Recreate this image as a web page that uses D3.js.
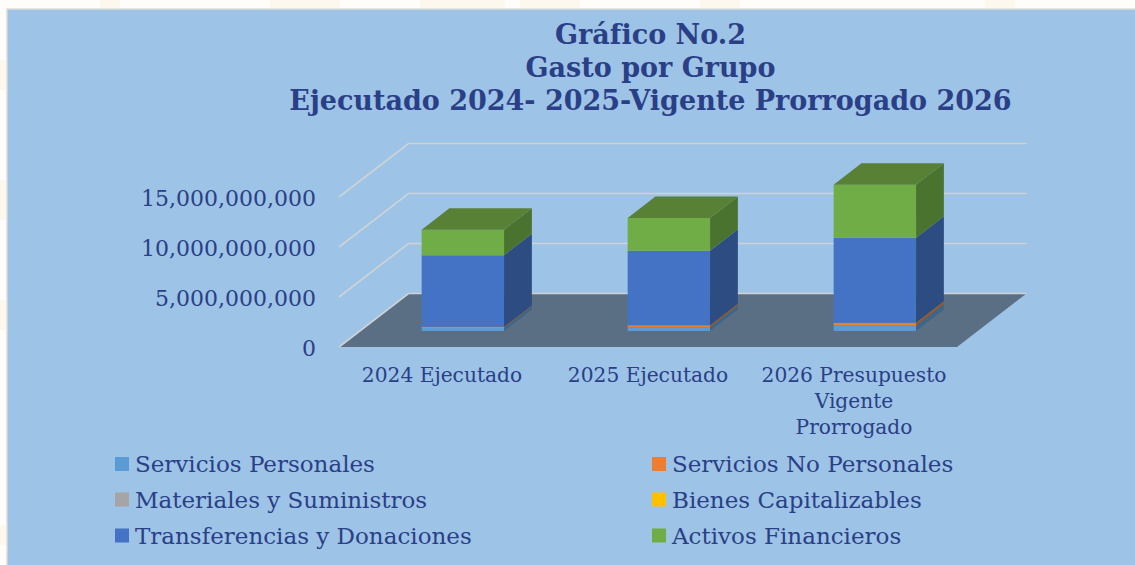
<!DOCTYPE html>
<html lang="es">
<head>
<meta charset="utf-8">
<title>Gasto por Grupo</title>
<script src="https://cdnjs.cloudflare.com/ajax/libs/d3/7.8.5/d3.min.js"></script>
<style>
  html, body { margin: 0; padding: 0; background: #fefdf9; overflow: hidden; }
  svg { display: block; }
  text { font-family: "DejaVu Serif", serif; fill: #2a3f86; }
</style>
</head>
<body>
<div id="chart"></div>
<script>
// Datos (valores en unidades)
const categories = ['2024 Ejecutado', '2025 Ejecutado', '2026 Presupuesto Vigente Prorrogado'];
const categoryLines = [['2024 Ejecutado'], ['2025 Ejecutado'], ['2026 Presupuesto', 'Vigente', 'Prorrogado']];
const groups = ['Servicios Personales', 'Servicios No Personales', 'Materiales y Suministros',
  'Bienes Capitalizables', 'Transferencias y Donaciones', 'Activos Financieros'];
const serviciosPersonales = [300000000, 370000000, 530000000];
const serviciosNoPersonales = [90000000, 170000000, 220000000];
const materiales = [10000000, 15000000, 20000000];
const bienes = [10000000, 15000000, 60000000];
const transferencias = [7170000000, 7460000000, 8500000000];
const activos = [2550000000, 3270000000, 5300000000];
const yTicks = [0, 5000000000, 10000000000, 15000000000];
const titleLines = ['Gráfico No.2', 'Gasto por Grupo', 'Ejecutado 2024- 2025-Vigente Prorrogado 2026'];

const seriesValues = [serviciosPersonales, serviciosNoPersonales, materiales, bienes, transferencias, activos];
const front = ['#5b9bd5', '#ed7d31', '#a5a5a5', '#ffc000', '#4472c4', '#70ad47'];

const width = 1135, height = 565;
const svg = d3.select('#chart').append('svg').attr('width', width).attr('height', height);

// Manchas tenues de la marca de agua en el margen
[[100, 20], [270, 70], [420, 85], [520, 60], [700, 40], [985, 30]].forEach(([mx, mw]) => {
  svg.append('rect').attr('x', mx).attr('y', 0).attr('width', mw).attr('height', 8).attr('fill', '#fcf8ee');
});
[[60, 30], [180, 40], [300, 30], [525, 20]].forEach(([my, mh]) => {
  svg.append('rect').attr('x', 0).attr('y', my).attr('width', 6).attr('height', mh).attr('fill', '#fcf8ee');
});

// Panel de fondo
svg.append('rect').attr('x', 7).attr('y', 9).attr('width', width + 10).attr('height', height + 10)
  .attr('fill', '#9dc3e6').attr('stroke', '#dcdcd8').attr('stroke-width', 1.5);

// Escalas: x por categoria, y por valor, z para la profundidad del "3D"
const x = d3.scaleBand().domain(categories).range([339, 957]);
const y = d3.scaleLinear().domain([0, 15000000000]).range([347, 197]);
const depthX = d3.scaleLinear().domain([0, 1]).range([0, 69.5]);
const depthY = d3.scaleLinear().domain([0, 1]).range([0, 53.5]);
const barBand = d3.scaleBand().domain([0]).range([0, x.bandwidth()]).paddingInner(0.6).paddingOuter(0.3);
const zFront = 0.3, zBack = 0.7;

const px = (xv, z) => xv + depthX(z);
const py = (v, z) => y(v) - depthY(z);
const pathOf = pts => d3.line()(pts) + 'Z';

// Piso
const floorX0 = x.range()[0], floorX1 = x.range()[1];
svg.append('path')
  .attr('d', pathOf([[px(floorX0, 0), py(0, 0)], [px(floorX1, 0), py(0, 0)], [px(floorX1, 1), py(0, 1)], [px(floorX0, 1), py(0, 1)]]))
  .attr('fill', '#5b6f84');

// Lineas de cuadricula (lateral + fondo)
yTicks.forEach(t => {
  svg.append('path')
    .attr('d', d3.line()([[px(floorX0, 0), py(t, 0)], [px(floorX0, 1), py(t, 1)], [px(floorX1, 1), py(t, 1)]]))
    .attr('fill', 'none').attr('stroke', '#cfd3d6').attr('stroke-width', 1.6);
});

// Barras apiladas
const stack = d3.stack().keys(d3.range(groups.length)).value((d, k) => seriesValues[k][d]);
const layers = stack(d3.range(categories.length));

const shade = (c, k) => d3.color(c).darker(k).formatHex();
layers.forEach((layer, k) => {
  layer.forEach((seg, i) => {
    const x0 = x(categories[i]) + barBand(0);
    const x1 = x0 + barBand.bandwidth();
    const [a, b] = seg;
    const g = svg.append('g');
    // Cara lateral
    g.append('path')
      .attr('d', pathOf([[px(x1, zFront), py(a, zFront)], [px(x1, zBack), py(a, zBack)], [px(x1, zBack), py(b, zBack)], [px(x1, zFront), py(b, zFront)]]))
      .attr('fill', shade(front[k], 1.15));
    // Cara frontal
    g.append('path')
      .attr('d', pathOf([[px(x0, zFront), py(a, zFront)], [px(x1, zFront), py(a, zFront)], [px(x1, zFront), py(b, zFront)], [px(x0, zFront), py(b, zFront)]]))
      .attr('fill', front[k]);
    // Tapa superior solo en la ultima serie
    if (k === groups.length - 1) {
      g.append('path')
        .attr('d', pathOf([[px(x0, zFront), py(b, zFront)], [px(x1, zFront), py(b, zFront)], [px(x1, zBack), py(b, zBack)], [px(x0, zBack), py(b, zBack)]]))
        .attr('fill', '#588135');
    }
  });
});

// Eje Y
const yAxis = svg.append('g').attr('class', 'y-axis');
yAxis.selectAll('text').data(yTicks).enter().append('text')
  .attr('x', 316).attr('y', d => y(d) + 9)
  .attr('text-anchor', 'end').attr('font-size', 22)
  .text(d => d3.format(',')(d));

// Etiquetas de categoria
categories.forEach((c, i) => {
  const cx = x(c) + x.bandwidth() / 2;
  svg.append('text').attr('text-anchor', 'middle').attr('font-size', 20.2)
    .selectAll('tspan').data(categoryLines[i]).enter().append('tspan')
    .attr('x', cx).attr('y', (d, j) => 382 + j * 26).text(d => d);
});

// Titulo
svg.append('text').attr('text-anchor', 'middle').attr('font-size', 27).attr('font-weight', 'bold')
  .selectAll('tspan').data(titleLines).enter().append('tspan')
  .attr('x', 650.5).attr('y', (d, j) => 44 + j * 33).text(d => d);

// Leyenda
const legendX = [115, 652], legendY = [464, 499.5, 535.5];
groups.forEach((g, i) => {
  const lx = legendX[i % 2], ly = legendY[Math.floor(i / 2)];
  svg.append('rect').attr('x', lx).attr('y', ly - 7).attr('width', 14).attr('height', 14).attr('fill', front[i]);
  svg.append('text').attr('x', lx + 20).attr('y', ly + 8).attr('font-size', 23).text(g);
});
</script>
</body>
</html>
